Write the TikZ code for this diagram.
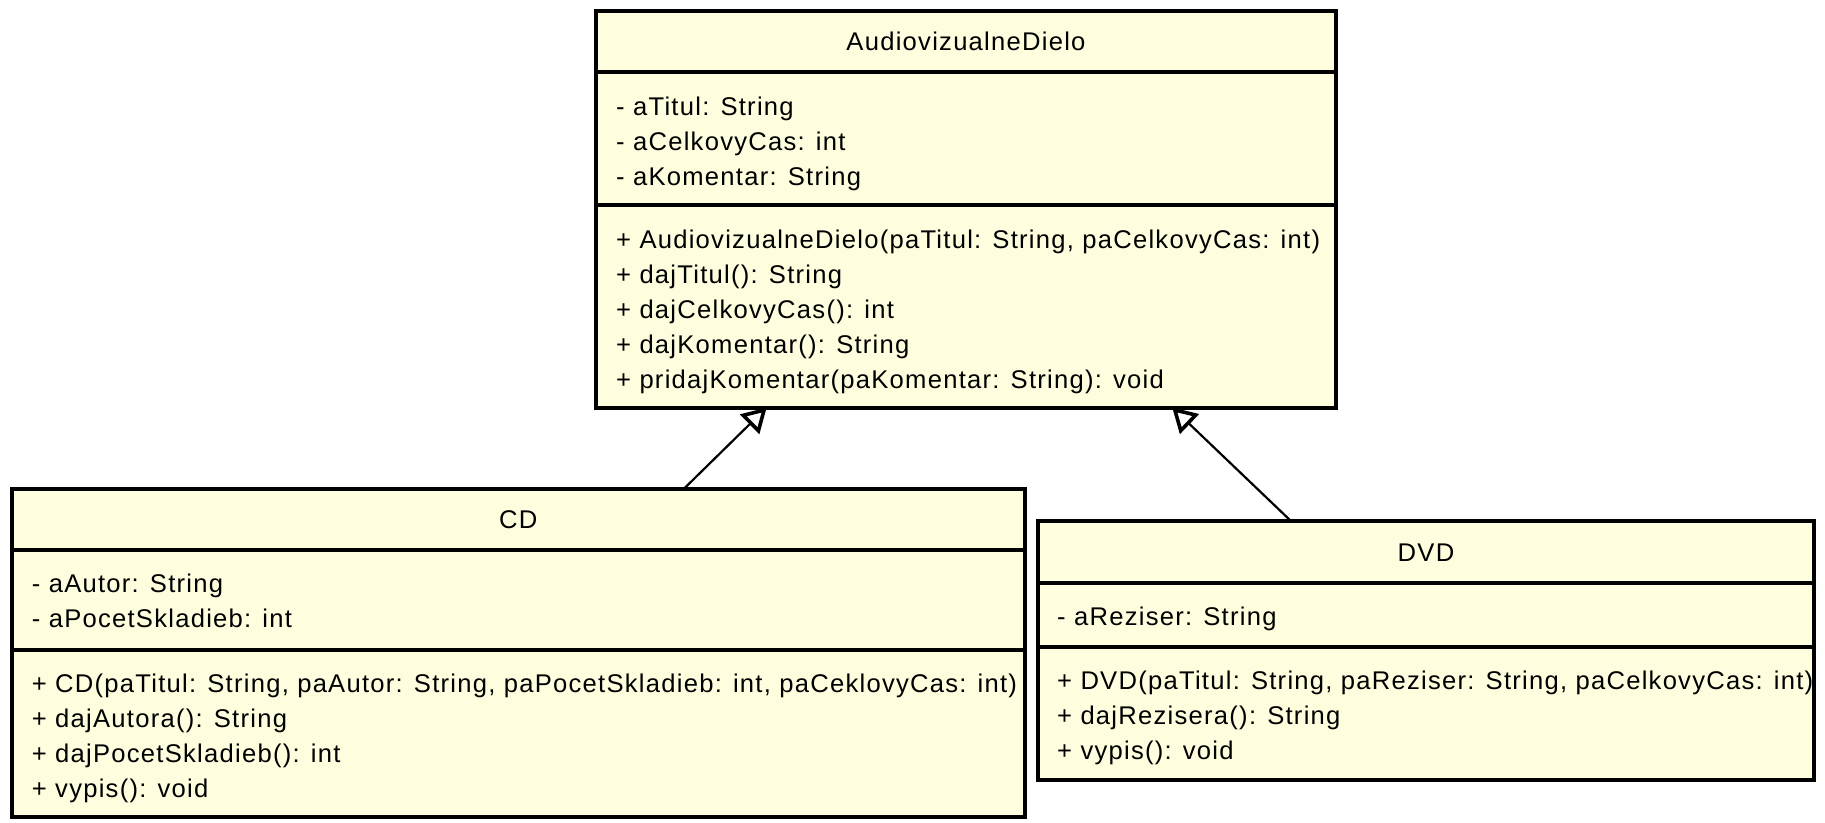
\documentclass[tikz,border=0pt]{standalone}
\usepackage{fontspec}
\setmainfont{Liberation Sans}[LetterSpace=4.9]
\usetikzlibrary{arrows.meta}
\definecolor{umlfill}{RGB}{254,254,222}
\begin{document}
\begin{tikzpicture}[x=1pt,y=-1pt,
  classbox/.style={draw=black, fill=umlfill, line width=4pt, rectangle, inner sep=0pt, outer sep=0pt},
  divider/.style={line width=4pt},
  member/.style={anchor=base west, inner sep=0pt, font=\fontsize{25.6pt}{35pt}\selectfont},
  classname/.style={anchor=base, inner sep=0pt, font=\fontsize{25.6pt}{35pt}\selectfont},
  inherit/.style={line width=2.2pt, -{Triangle[open, length=24pt, width=27pt, line width=3.6pt]}}
]
\useasboundingbox[fill=white] (0,0) rectangle (1825,822);

% AudiovizualneDielo
\node[classbox, minimum width=740pt, minimum height=397pt] (av) at (966,209) {};
\draw[divider] (596,71.7) -- (1336,71.7);
\draw[divider] (596,205) -- (1336,205);
\node[classname] (avt) at (966,50) {AudiovizualneDielo};
\foreach \t [count=\i from 0] in {{- aTitul: String},{- aCelkovyCas: int},{- aKomentar: String}}
  \node[member] (ava\i) at (616,{115+35*\i}) {\t};
\foreach \t [count=\i from 0] in {{+ AudiovizualneDielo(paTitul: String, paCelkovyCas: int)},{+ dajTitul(): String},{+ dajCelkovyCas(): int},{+ dajKomentar(): String},{+ pridajKomentar(paKomentar: String): void}}
  \node[member] (avm\i) at (616,{248+35*\i}) {\t};

% CD
\node[classbox, minimum width=1013.3pt, minimum height=328pt] (cd) at (518.35,653) {};
\draw[divider] (11.7,550) -- (1025,550);
\draw[divider] (11.7,649.5) -- (1025,649.5);
\node[classname] (cdt) at (518.35,528) {CD};
\foreach \t [count=\i from 0] in {{- aAutor: String},{- aPocetSkladieb: int}}
  \node[member] (cda\i) at (31.7,{592+35*\i}) {\t};
\foreach \t [count=\i from 0] in {{+ CD(paTitul: String, paAutor: String, paPocetSkladieb: int, paCeklovyCas: int)},{+ dajAutora(): String},{+ dajPocetSkladieb(): int},{+ vypis(): void}}
  \node[member] (cdm\i) at (31.7,{692+35*\i}) {\t};

% DVD
\node[classbox, minimum width=776pt, minimum height=258.7pt] (dvd) at (1426,650.65) {};
\draw[divider] (1038,582.5) -- (1814,582.5);
\draw[divider] (1038,646.5) -- (1814,646.5);
\node[classname] (dvdt) at (1426,561) {DVD};
\node[member] (dvda0) at (1057,625) {- aReziser: String};
\foreach \t [count=\i from 0] in {{+ DVD(paTitul: String, paReziser: String, paCelkovyCas: int)},{+ dajRezisera(): String},{+ vypis(): void}}
  \node[member] (dvdm\i) at (1057,{689.5+35*\i}) {\t};

% generalizations
\draw[inherit] (cd) -- (av);
\draw[inherit] (dvd) -- (av);
\end{tikzpicture}
\end{document}
